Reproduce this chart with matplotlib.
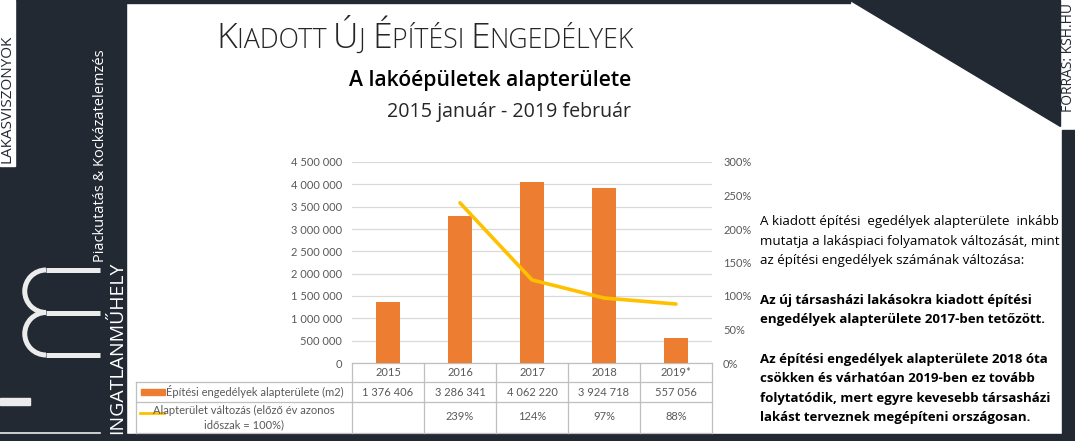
import numpy as np
import matplotlib.pyplot as plt
from matplotlib.patches import Rectangle, Polygon, Arc
from matplotlib.font_manager import FontProperties

# data
years = ['2015', '2016', '2017', '2018', '2019*']
area = [1376406, 3286341, 4062220, 3924718, 557056]
change_years = ['2016', '2017', '2018', '2019*']
change = [239, 124, 97, 88]

area_label = 'Építési engedélyek alapterülete (m2)'
change_label = ['Alapterület változás (előző év azonos', 'időszak = 100%)']

DARK = '#222933'
ORANGE = '#ed7d31'
YELLOW = '#ffc000'
GRAY = '#595959'
GRID = '#d9d9d9'
LINE = '#bfbfbf'
W, H = 1075, 441

plt.rcParams['font.family'] = ['Lato', 'DejaVu Sans']

fig = plt.figure(figsize=(W / 100, H / 100), dpi=100)
bg = fig.add_axes([0, 0, 1, 1], zorder=0)
bg.set_xlim(0, W)
bg.set_ylim(H, 0)
bg.axis('off')

# frame / decoration
bg.add_patch(Rectangle((0, 0), 126, H, color=DARK))
bg.add_patch(Rectangle((126, 0), 724, 3, color=DARK))
bg.add_patch(Rectangle((0, 434), W, 7, color=DARK))
bg.add_patch(Polygon([(850, 0), (1060, 0), (1060, 126)], color=DARK))
bg.add_patch(Rectangle((1062, 130), 13, H - 130, color=DARK))

side = ['Open Sans', 'DejaVu Sans']
bg.add_patch(Rectangle((0, 0), 15, 166, color='white'))
bg.text(7.5, 163, 'LAKASVISZONYOK', rotation=90, ha='center', va='bottom',
        fontsize=11, color=DARK, family=side)
bg.text(100, 262, 'Piackutatás & Kockázatelemzés', rotation=90, ha='center',
        va='bottom', fontsize=10.5, color='white', family=side)
bg.text(117, 262, 'INGATLANMŰHELY', rotation=90, ha='center', va='top',
        fontsize=14, color='white', family=side)
bg.text(1068.5, 3, 'FORRÁS: KSH.HU', rotation=90, ha='center', va='top',
        fontsize=10, color=DARK, family=side)

# "im" logo
logo = '#ececec'
for yy in [355, 312.5, 270]:
    bg.plot([100, 46], [yy, yy], color=logo, lw=3.6, solid_capstyle='butt')
for yc in [333.75, 291.25]:
    bg.add_patch(Arc((46, yc), 42.5, 42.5, theta1=90, theta2=270, color=logo, lw=3.6))
bg.add_patch(Rectangle((0, 398), 30, 7, color=logo))
bg.plot([0, 100], [433, 433], color=logo, lw=1.2)

fig.canvas.draw()
renderer = fig.canvas.get_renderer()


def text_w(s, size, family, weight='normal'):
    fp = FontProperties(family=family, size=size, weight=weight)
    w, _, _ = renderer.get_text_width_height_descent(s, fp, ismath=False)
    return w


def draw_pieces(pieces, x_left, x_right, y, family, weight='normal', **kw):
    # pieces of (string, relative size); scaled so the run fills x_left..x_right
    base = [text_w(s, fs, family, weight) for s, fs in pieces]
    k = (x_right - x_left) / sum(base)
    x = x_left
    for (s, fs), w in zip(pieces, base):
        bg.text(x, y, s, fontsize=fs * k, va='baseline', family=family,
                fontweight=weight, **kw)
        x += w * k


# titles
title_fam = ['Open Sans', 'DejaVu Sans']
draw_pieces([('K', 22), ('IADOTT ', 16.5), ('Ú', 22), ('J ', 16.5), ('É', 22),
             ('PÍTÉSI ', 16.5), ('E', 22), ('NGEDÉLYEK', 16.5)], 216, 633, 48,
            title_fam, weight='light', color='#262626')
draw_pieces([('A lakóépületek alapterülete', 15)], 349, 632, 86, title_fam,
            weight='semibold', color='black')
draw_pieces([('2015 január - 2019 február', 14)], 387, 633, 117, title_fam,
            color='#262626')

# right commentary
para1 = ['A kiadott építési  egedélyek alapterülete  inkább',
         'mutatja a lakáspiaci folyamatok változását, mint',
         'az építési engedélyek számának változása:']
para2 = ['Az új társasházi lakásokra kiadott építési',
         'engedélyek alapterülete 2017-ben tetőzött.']
para3 = ['Az építési engedélyek alapterülete 2018 óta',
         'csökken és várhatóan 2019-ben ez tovább',
         'folytatódik, mert egyre kevesebb társasházi',
         'lakást terveznek megépíteni országosan.']
pfam = ['Open Sans', 'DejaVu Sans']
for lines, y0, wt, fs in [(para1, 225, 'normal', 9.6), (para2, 304, 'bold', 9.55),
                          (para3, 363, 'bold', 9.55)]:
    for i, ln in enumerate(lines):
        bg.text(760, y0 + i * 19.5, ln, va='baseline', ha='left', fontsize=fs,
                family=pfam, fontweight=wt, color='black')

# chart
ax = fig.add_axes([352 / W, (H - 363) / H, 360 / W, 201 / H], zorder=2)
ax.patch.set_visible(False)
x = np.arange(len(years))
ax.bar(x, area, width=0.32, color=ORANGE, zorder=2)
ax.set_xlim(-0.5, len(years) - 0.5)
ax.set_ylim(0, 4500000)
yt = np.arange(0, 4500001, 500000)
ax.set_yticks(yt, [f'{v:,}'.replace(',', ' ') for v in yt])
ax.set_xticks(x, years)
ax.grid(axis='y', color=GRID, lw=0.9, zorder=0)
ax.tick_params(axis='y', length=0, pad=7, labelsize=8, labelcolor=GRAY)
ax.tick_params(axis='x', length=0, pad=3, labelsize=8, labelcolor=GRAY)
for s in ax.spines.values():
    s.set_visible(False)

ax2 = ax.twinx()
ax2.plot([years.index(y) for y in change_years], change, color=YELLOW, lw=2.6,
         solid_capstyle='round', zorder=3)
ax2.set_ylim(0, 300)
pt = np.arange(0, 301, 50)
ax2.set_yticks(pt, [f'{v}%' for v in pt])
ax2.tick_params(axis='y', length=0, pad=8, labelsize=8, labelcolor=GRAY)
for s in ax2.spines.values():
    s.set_visible(False)

# data table
fig.canvas.draw()


def col_px(v):
    return ax.transData.transform((v, 0))[0]


edges = [col_px(i - 0.5) for i in range(len(years) + 1)]
centers = [col_px(i) for i in range(len(years))]
lkw = dict(color=LINE, lw=0.9)
bg.plot([edges[0], edges[-1]], [363, 363], **lkw)
for yy in [382, 402, 433]:
    bg.plot([136, edges[-1]], [yy, yy], **lkw)
bg.plot([136, 136], [382, 433], **lkw)
for e in edges:
    bg.plot([e, e], [363, 433], **lkw)

tkw = dict(fontsize=8, color=GRAY)
bg.add_patch(Rectangle((141, 389), 24, 6, color=ORANGE))
bg.text(166, 392, area_label, va='center', ha='left', **tkw)
bg.plot([140, 164], [412.5, 412.5], color=YELLOW, lw=2)
bg.text(244, 410, change_label[0], va='center', ha='center', **tkw)
bg.text(244, 425, change_label[1], va='center', ha='center', **tkw)
for c, v in zip(centers, area):
    bg.text(c, 392, f'{v:,}'.replace(',', ' '), va='center', ha='center', **tkw)
for yr, v in zip(change_years, change):
    bg.text(centers[years.index(yr)], 417, f'{v}%', va='center', ha='center', **tkw)

plt.savefig('out.png', dpi=100)
